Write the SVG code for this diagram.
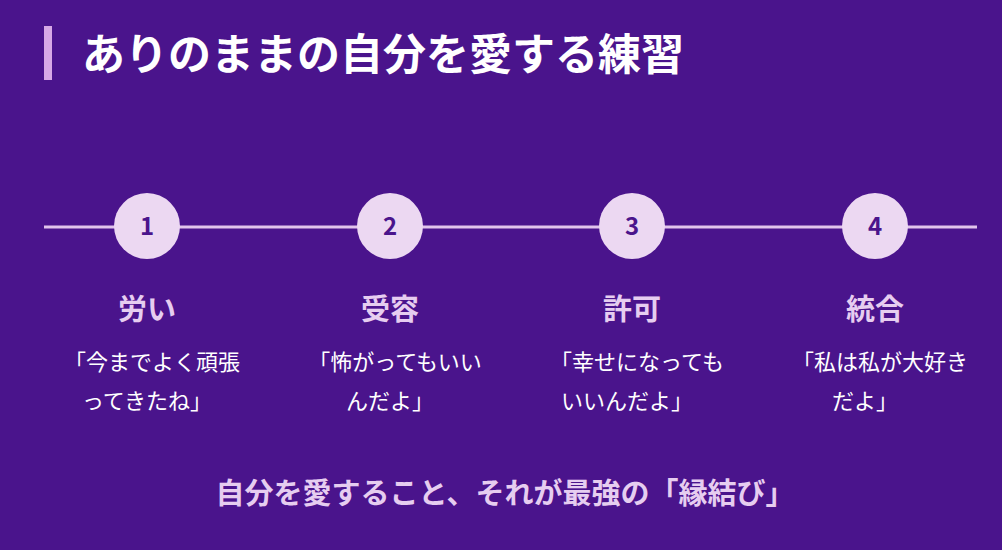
<svg xmlns="http://www.w3.org/2000/svg" width="1002" height="550" viewBox="0 0 1002 550">
<style>
text{font-family:"Noto Sans CJK JP","Noto Sans",sans-serif}
.c{fill:#ecd8f2}
.n{fill:#4a148c;font-size:24px;font-weight:bold;text-anchor:middle}
.h{fill:#e6cdf0;font-size:29px;font-weight:bold;text-anchor:middle}
.b{fill:#ffffff;font-size:22px;text-anchor:middle}
</style>
<rect width="1002" height="550" fill="#4a148c"/>
<rect x="44" y="26" width="8" height="54" fill="#d7a8e6"/>
<text x="82" y="70" fill="#ffffff" font-size="43" font-weight="bold">ありのままの自分を愛する練習</text>
<g id="connectors"><line x1="44" y1="227" x2="977" y2="227" stroke="#e1c4ec" stroke-width="3"/></g>
<g id="n1"><circle class="c" cx="147" cy="226" r="33"/><text class="n" x="147" y="235">1</text><text class="h" x="147" y="320">労い</text><text class="b" x="152" y="370">「今までよく頑張</text><text class="b" x="147" y="409">ってきたね」</text></g>
<g id="n2"><circle class="c" cx="390" cy="226" r="33"/><text class="n" x="390" y="235">2</text><text class="h" x="390" y="320">受容</text><text class="b" x="395" y="370">「怖がってもいい</text><text class="b" x="390" y="409">んだよ」</text></g>
<g id="n3"><circle class="c" cx="632" cy="226" r="33"/><text class="n" x="632" y="235">3</text><text class="h" x="632" y="320">許可</text><text class="b" x="637" y="370">「幸せになっても</text><text class="b" x="627" y="409">いいんだよ」</text></g>
<g id="n4"><circle class="c" cx="875" cy="226" r="33"/><text class="n" x="875" y="235">4</text><text class="h" x="875" y="320">統合</text><text class="b" x="880" y="370">「私は私が大好き</text><text class="b" x="865" y="409">だよ」</text></g>
<text x="505" y="504" fill="#e6cdf0" font-size="29" font-weight="bold" text-anchor="middle">自分を愛すること、それが最強の「縁結び」</text>
</svg>
